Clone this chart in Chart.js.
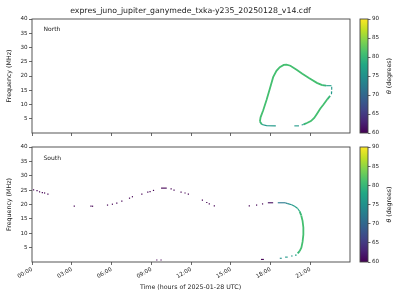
<!DOCTYPE html>
<html><head><meta charset="utf-8">
<script src="https://cdn.jsdelivr.net/npm/chart.js@4.4.1/dist/chart.umd.min.js"></script>
<style>
html,body{margin:0;padding:0;background:#fff;}
#wrap{position:relative;width:400px;height:300px;overflow:hidden;background:#fff;}
#wrap canvas{position:absolute;left:0;top:0;}
</style></head><body>
<div id="wrap">
<canvas id="north" width="400" height="300"></canvas>
<canvas id="south" width="400" height="300"></canvas>
<canvas id="cbN" width="400" height="300"></canvas>
<canvas id="cbS" width="400" height="300"></canvas>
</div>
<script>
// ---- tick labels ----
const hourTicks = [0, 3, 6, 9, 12, 15, 18, 21];
const hourLabels = ['00:00', '03:00', '06:00', '09:00', '12:00', '15:00', '18:00', '21:00'];
const freqTicks = [5, 10, 15, 20, 25, 30, 35, 40];
const thetaTicks = [60, 65, 70, 75, 80, 85, 90];

// ---- North panel (continuous emission traces, null = gap) ----
const northCurveHours = [18.4, 17.7, 17.35, 17.2, 17.25, 17.45, 17.7, 17.95, 18.2, 18.45, 18.7, 19.0, 19.2, 19.5, 19.97, 20.4, 20.9, 21.5, 21.9, 22.2, 22.6, null,
  22.62, 22.62, null, 22.62, 22.6, null,
  22.5, 22.3, 22.0, 21.75, 21.5, 21.3, 21.05, 20.75, 20.5, 20.35, null,
  20.15, 19.8, null];
const northCurveFreq = [2.5, 2.6, 3.0, 4.0, 5.5, 8.0, 11.6, 15.5, 19.6, 21.8, 23.1, 23.9, 24.0, 23.6, 22.2, 20.8, 19.3, 17.6, 16.8, 16.6, 16.6, null,
  16.2, 15.2, null, 14.6, 13.6, null,
  13.0, 11.9, 10.0, 8.5, 6.7, 5.3, 4.2, 3.5, 3.0, 2.8, null,
  2.5, 2.5, null];
const northCurveTheta = [76, 76, 80, 81, 81, 81, 81, 81, 81, 81, 81, 81, 81, 81, 81, 81, 81, 81, 80, 77, 76, null,
  76, 76, null, 76, 76, null,
  80, 81, 81, 81, 81, 81, 81, 80, 76, 76, null,
  76, 76, null];

// ---- South panel ----
const southCurveHours = [9.74, 10.17, null,
  17.8, 18.2, null,
  18.55, 19.1, 19.3, 19.6, 19.85, 20.05, 20.2, 20.32, 20.42, 20.48, 20.48, 20.42, 20.33, 20.2, 20.05, null,
  19.85, 19.97, null, 19.55, 19.67, null, 19.1, 19.3, null, 18.7, 18.85, null,
  17.28, 17.5, null];
const southCurveFreq = [25.7, 25.7, null,
  20.6, 20.6, null,
  20.6, 20.6, 20.3, 19.9, 19.3, 18.6, 17.6, 16.2, 14.3, 12.0, 9.5, 7.0, 5.0, 3.8, 3.0, null,
  2.4, 2.4, null, 2.1, 2.1, null, 1.7, 1.7, null, 1.3, 1.3, null,
  0.9, 0.9, null];
const southCurveTheta = [60, 60, null,
  61, 61, null,
  72, 73, 75, 76, 77, 78, 80, 81, 81, 81, 81, 81, 81, 80, 79, null,
  77, 77, null, 76, 76, null, 76, 76, null, 75, 75, null,
  60, 60, null];

const southDotHours = [0.12, 0.38, 0.57, 0.78, 0.95, 1.2, 3.19, 4.45, 4.57, 5.7, 6.07, 6.4, 6.78, 7.36, 7.58,
  8.29, 8.74, 8.91, 9.17, 10.5, 10.72, 11.25, 11.55, 11.8, 12.86, 13.19, 13.38, 13.76,
  16.4, 16.95, 17.4, 9.42, 9.74];
const southDotFreq = [25.1, 24.8, 24.4, 24.1, 24.0, 23.6, 19.4, 19.4, 19.4, 19.8, 20.1, 20.5, 21.2, 22.2, 22.7,
  23.6, 24.3, 24.5, 24.9, 25.4, 25.0, 24.3, 24.0, 23.6, 21.5, 20.7, 20.2, 19.5,
  19.5, 19.8, 20.2, 0.7, 0.7];
const southDotTheta = [60, 60, 60, 60, 60, 60, 60, 60, 60, 60, 60, 60, 60, 60, 60,
  60, 60, 60, 60, 60, 60, 60, 60, 60, 60, 60, 60, 60,
  60, 60, 60, 60, 60];

// ---- colour map ----
const THETA_MIN = 60, THETA_MAX = 90;
const VIRIDIS = ['#440154','#482475','#414487','#355f8d','#2a788e','#21918c','#22a884','#44bf70','#7ad151','#bddf26','#fde725'];
function hexRgb(h){return [parseInt(h.substr(1,2),16),parseInt(h.substr(3,2),16),parseInt(h.substr(5,2),16)];}
function viridis(theta){
  let t = (theta - THETA_MIN) / (THETA_MAX - THETA_MIN);
  t = Math.max(0, Math.min(1, t));
  const p = t * (VIRIDIS.length - 1);
  const i = Math.min(VIRIDIS.length - 2, Math.floor(p));
  const f = p - i;
  const a = hexRgb(VIRIDIS[i]), b = hexRgb(VIRIDIS[i+1]);
  const c = a.map((v,k)=>Math.round(v + (b[k]-v)*f));
  return 'rgb(' + c.join(',') + ')';
}

const FONT = 'DejaVu Sans';
const TXT = '#222';
const FRAME = '#444';

function toXY(hs, fs){ return hs.map((h,i)=>({x: h, y: fs[i]})); }

const textPlugin = {
  id: 'texts',
  afterDraw(chart, args, opts){
    const ctx = chart.ctx;
    (opts.items || []).forEach(it=>{
      ctx.save();
      ctx.fillStyle = it.color || TXT;
      ctx.textBaseline = 'middle';
      ctx.translate(it.x, it.y);
      if (it.rot) ctx.rotate(it.rot);
      if (it.parts) {
        // mixed styles (italic symbol + regular text), centred
        let total = 0;
        it.parts.forEach(p => { ctx.font = p.font; p.w = ctx.measureText(p.text).width; total += p.w; });
        let x = -total / 2;
        ctx.textAlign = 'left';
        it.parts.forEach(p => { ctx.font = p.font; ctx.fillText(p.text, x, 0); x += p.w; });
      } else {
        ctx.font = it.font;
        ctx.textAlign = it.align || 'center';
        ctx.fillText(it.text, 0, 0);
      }
      ctx.restore();
    });
  }
};
const framePlugin = {
  id: 'frame',
  afterDatasetsDraw(chart){
    const a = chart.chartArea, ctx = chart.ctx;
    ctx.save();
    ctx.strokeStyle = FRAME; ctx.lineWidth = 0.9;
    ctx.strokeRect(a.left, a.top, a.right - a.left, a.bottom - a.top);
    ctx.restore();
  }
};
const gradientPlugin = {
  id: 'cbar',
  beforeDatasetsDraw(chart){
    const a = chart.chartArea, ctx = chart.ctx;
    const g = ctx.createLinearGradient(0, a.bottom, 0, a.top);
    VIRIDIS.forEach((c,i)=>g.addColorStop(i/(VIRIDIS.length-1), c));
    ctx.save();
    ctx.fillStyle = g;
    ctx.fillRect(a.left, a.top, a.right - a.left, a.bottom - a.top);
    ctx.restore();
  }
};

function panel(id, top, bottom, showXLabels, curveH, curveF, curveT, dotH, dotF, dotT, texts){
  const datasets = [{
    type: 'line',
    data: toXY(curveH, curveF),
    showLine: true,
    spanGaps: false,
    pointRadius: 0,
    tension: 0,
    borderCapStyle: 'butt',
    borderWidth: 1.1,
    borderColor: viridis(80),
    segment: {
      borderColor: c => viridis(curveT[c.p0DataIndex]),
      borderWidth: c => (curveT[c.p0DataIndex] >= 79 ? 1.8 : 1.1)
    }
  }];
  if (dotH) {
    datasets.push({
      type: 'scatter',
      data: toXY(dotH, dotF),
      pointStyle: 'rect',
      pointRadius: 0.85,
      pointBorderWidth: 0,
      pointBackgroundColor: dotT.map(viridis)
    });
  }
  return new Chart(document.getElementById(id), {
    type: 'scatter',
    data: { datasets },
    options: {
      responsive: false, animation: false, events: [],
      layout: { padding: { left: 0, right: 50, top: top, bottom: showXLabels ? 0 : 157 } },
      plugins: { legend: { display: false }, tooltip: { enabled: false }, texts: { items: texts } },
      scales: {
        x: {
          type: 'linear', min: 0, max: 24,
          afterBuildTicks: s => { s.ticks = hourTicks.map(v=>({value: v})); },
          afterFit: s => { s.height = showXLabels ? 38 : 10; },
          ticks: {
            display: showXLabels, autoSkip: false, maxRotation: 30, minRotation: 30, padding: 1,
            font: { family: FONT, size: 5.6 }, color: TXT,
            callback: v => { const i = hourTicks.indexOf(v); return i < 0 ? null : hourLabels[i]; }
          },
          grid: { drawOnChartArea: false, drawTicks: true, tickLength: 3, color: FRAME, lineWidth: 0.8 },
          border: { display: false }
        },
        y: {
          type: 'linear', min: 0, max: 40,
          afterBuildTicks: s => { s.ticks = freqTicks.map(v=>({value: v})); },
          afterFit: s => { s.width = 32; },
          ticks: { padding: 1.5, font: { family: FONT, size: 5.6 }, color: TXT },
          grid: { drawOnChartArea: false, drawTicks: true, tickLength: 3, color: FRAME, lineWidth: 0.8 },
          border: { display: false }
        }
      }
    },
    plugins: [framePlugin, textPlugin]
  });
}

function colorbar(id, top, bottom, texts){
  return new Chart(document.getElementById(id), {
    type: 'scatter',
    data: { datasets: [{ data: [] }] },
    options: {
      responsive: false, animation: false, events: [],
      layout: { padding: { left: 360, right: 7, top: top, bottom: 300 - bottom } },
      plugins: { legend: { display: false }, tooltip: { enabled: false }, texts: { items: texts } },
      scales: {
        x: { display: false, min: 0, max: 1 },
        y: {
          position: 'right', min: THETA_MIN, max: THETA_MAX,
          afterBuildTicks: s => { s.ticks = thetaTicks.map(v=>({value: v})); },
          afterFit: s => { s.width = 25; },
          ticks: { padding: 1.5, font: { family: FONT, size: 5.6 }, color: TXT },
          grid: { drawOnChartArea: false, drawTicks: true, tickLength: 2.5, color: FRAME, lineWidth: 0.8 },
          border: { display: false }
        }
      }
    },
    plugins: [gradientPlugin, framePlugin, textPlugin]
  });
}

const cbLabel = (y) => ({ x: 389, y: y, rot: -Math.PI/2, parts: [
  { text: 'θ', font: 'italic 6.3px ' + FONT },
  { text: ' (degrees)', font: '6.3px ' + FONT }
]});

panel('north', 19, 133, false, northCurveHours, northCurveFreq, northCurveTheta, null, null, null, [
  { text: 'expres_juno_jupiter_ganymede_txka-y235_20250128_v14.cdf', x: 190.5, y: 10.5, font: '7.8px ' + FONT },
  { text: 'Frequency (MHz)', x: 9.5, y: 76, rot: -Math.PI/2, font: '6.3px ' + FONT },
  { text: 'North', x: 43.5, y: 29.5, align: 'left', font: '6px ' + FONT }
]);
panel('south', 147, 262, true, southCurveHours, southCurveFreq, southCurveTheta, southDotHours, southDotFreq, southDotTheta, [
  { text: 'Frequency (MHz)', x: 9.5, y: 204.5, rot: -Math.PI/2, font: '6.3px ' + FONT },
  { text: 'South', x: 43.5, y: 158.5, align: 'left', font: '6px ' + FONT },
  { text: 'Time (hours of 2025-01-28 UTC)', x: 190.5, y: 287.5, font: '6.3px ' + FONT }
]);
colorbar('cbN', 19, 133, [cbLabel(76)]);
colorbar('cbS', 147, 262, [cbLabel(204.5)]);
</script>
</body></html>
